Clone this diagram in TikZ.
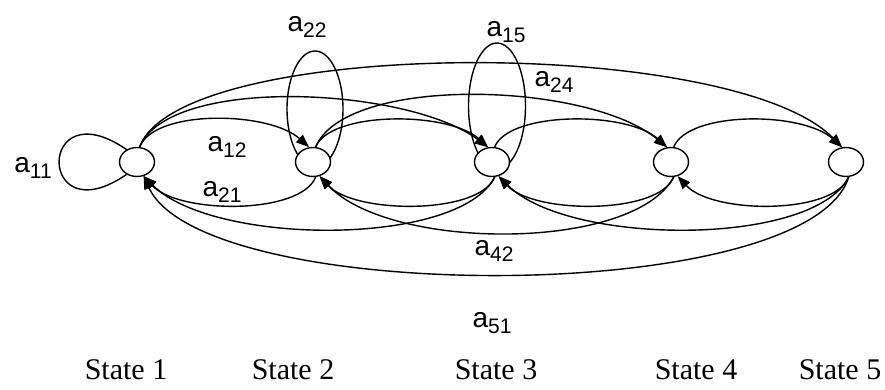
\documentclass[tikz,border=0pt]{standalone}
\usepackage{fontspec}
\setmainfont{Liberation Serif}
\newfontfamily\lsans{Liberation Sans}
\usetikzlibrary{arrows.meta,shapes.geometric,calc}
\tikzset{
  st/.style={ellipse, draw, fill=white, line width=1.4pt, minimum width=35pt, minimum height=29pt, inner sep=0pt},
  arc/.style={line width=1.4pt, -{Triangle[length=13pt,width=10pt]}},
  loopline/.style={line width=1.4pt},
  lab/.style={font=\lsans\fontsize{28}{28}\selectfont, inner sep=0pt},
  stlab/.style={font=\fontsize{30}{30}\selectfont, inner sep=0pt},
}
\newcommand\subx[1]{\raisebox{-0.2em}{\fontsize{21}{21}\selectfont #1}}
\begin{document}
\begin{tikzpicture}[x=1pt,y=1pt]
\useasboundingbox (0,0) rectangle (885,390);
% self loops on states 2 and 3 (drawn first, under the states)
\coordinate (c2) at (313,228);
\coordinate (c3) at (492,228);
\draw[loopline] ($(c2)+(2,53)$) ellipse [x radius=28pt, y radius=58pt];
\draw[loopline] ($(c3)+(5,56)$) ellipse [x radius=28.5pt, y radius=63pt];
% states
\node[st] (s1) at (137,228) {};
\node[st] (s2) at (c2) {};
\node[st] (s3) at (c3) {};
\node[st] (s4) at (671,228) {};
\node[st] (s5) at (846,228) {};
% self loop on state 1
\draw[loopline] (s1.130) .. controls ($(s1.130)+(-90,62)$) and ($(s1.230)+(-90,-62)$) .. (s1.230);
% forward arcs (above)
\draw[arc] (s1.80) .. controls ($(s1.80)+(15,38)$) and ($(s2.105)+(-40,36)$) .. (s2.105);
\draw[arc] (s1.80) .. controls ($(s1.80)+(30,72)$) and ($(s3.105)+(-80,60)$) .. (s3.105);
\draw[arc] (s1.80) .. controls ($(s1.80)+(40,110)$) and ($(s5.105)+(-110,112)$) .. (s5.105);
\draw[arc] (s2.80) .. controls ($(s2.80)+(15,36)$) and ($(s3.105)+(-40,36)$) .. (s3.105);
\draw[arc] (s2.80) .. controls ($(s2.80)+(30,72)$) and ($(s4.105)+(-80,66)$) .. (s4.105);
\draw[arc] (s3.80) .. controls ($(s3.80)+(15,36)$) and ($(s4.105)+(-40,36)$) .. (s4.105);
\draw[arc] (s4.80) .. controls ($(s4.80)+(15,36)$) and ($(s5.105)+(-40,36)$) .. (s5.105);
% backward arcs (below)
\draw[arc] (s2.-80) .. controls ($(s2.-80)+(-15,-38)$) and ($(s1.-65)+(35,-38)$) .. (s1.-65);
\draw[arc] (s3.-80) .. controls ($(s3.-80)+(-35,-70)$) and ($(s1.-65)+(70,-70)$) .. (s1.-65);
\draw[arc] (s5.-80) .. controls ($(s5.-80)+(-40,-130)$) and ($(s1.-65)+(60,-130)$) .. (s1.-65);
\draw[arc] (s3.-80) .. controls ($(s3.-80)+(-15,-38)$) and ($(s2.-65)+(35,-38)$) .. (s2.-65);
\draw[arc] (s4.-80) .. controls ($(s4.-80)+(-40,-75)$) and ($(s2.-65)+(70,-75)$) .. (s2.-65);
\draw[arc] (s4.-80) .. controls ($(s4.-80)+(-15,-38)$) and ($(s3.-65)+(35,-38)$) .. (s3.-65);
\draw[arc] (s5.-80) .. controls ($(s5.-80)+(-35,-70)$) and ($(s3.-65)+(70,-70)$) .. (s3.-65);
\draw[arc] (s5.-80) .. controls ($(s5.-80)+(-15,-38)$) and ($(s4.-65)+(35,-38)$) .. (s4.-65);
% labels
\node[lab] (l11) at (33,222) {a\subx{11}};
\node[lab] (l12) at (227,243) {a\subx{12}};
\node[lab] (l21) at (222,198) {a\subx{21}};
\node[lab] (l22) at (307,363) {a\subx{22}};
\node[lab] (l15) at (506,358) {a\subx{15}};
\node[lab] (l24) at (554,308) {a\subx{24}};
\node[lab] (l42) at (494,139) {a\subx{42}};
\node[lab] (l51) at (492,67) {a\subx{51}};
% state names
\node[stlab] (n1) at (126,20) {State 1};
\node[stlab] (n2) at (293,20) {State 2};
\node[stlab] (n3) at (496,20) {State 3};
\node[stlab] (n4) at (696,20) {State 4};
\node[stlab] (n5) at (840,20) {State 5};
\end{tikzpicture}
\end{document}
